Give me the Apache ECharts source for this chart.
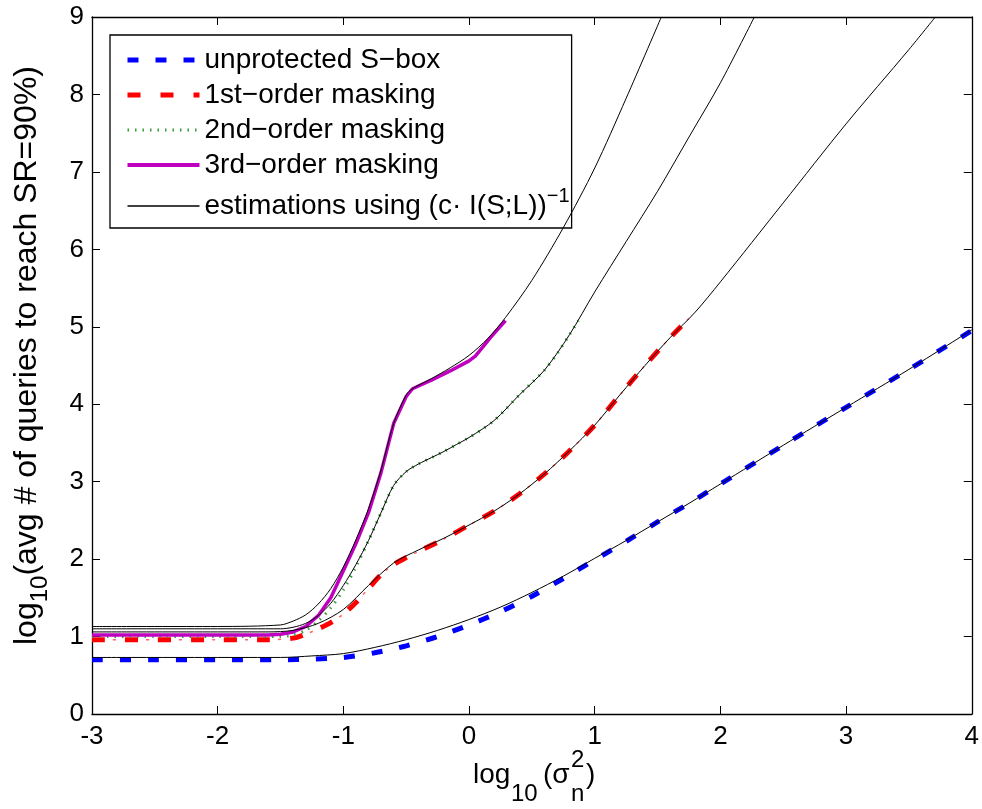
<!DOCTYPE html>
<html>
<head>
<meta charset="utf-8">
<script src="https://cdn.jsdelivr.net/npm/echarts@6/dist/echarts.min.js"></script>
<style>
  html, body { margin: 0; padding: 0; background: #fff; }
  #chart { width: 982px; height: 809px; }
</style>
</head>
<body>
<div id="chart"></div>
<script>
// 坐标轴刻度
const xTicks = [-3, -2, -1, 0, 1, 2, 3, 4];
const yTicks = [0, 1, 2, 3, 4, 5, 6, 7, 8, 9];

// unprotected S-box
const blueX = [-3, -2.5, -2, -1.5, -1.25, -1, -0.75, -0.5, -0.25, 0, 0.25, 0.5, 0.75, 1, 1.25, 1.5, 1.75, 2, 2.5, 3, 3.5, 4];
const blueY = [0.70, 0.70, 0.70, 0.70, 0.71, 0.73, 0.79, 0.88, 1.00, 1.15, 1.32, 1.52, 1.75, 1.99, 2.23, 2.48, 2.72, 2.97, 3.47, 3.96, 4.45, 4.95];
const blueEstX = [-3, -2.5, -2, -1.5, -1.25, -1, -0.75, -0.5, -0.25, 0, 0.25, 0.5, 0.75, 1, 1.25, 1.5, 1.75, 2, 2.5, 3, 3.5, 4];
const blueEstY = [0.73, 0.73, 0.73, 0.73, 0.75, 0.78, 0.86, 0.96, 1.08, 1.22, 1.38, 1.57, 1.78, 2.01, 2.24, 2.48, 2.72, 2.97, 3.47, 3.96, 4.45, 4.96];

// 1st-order masking
const redX = [-3, -2.5, -2, -1.6, -1.4, -1.3, -1.2, -1.1, -1.0, -0.9, -0.8, -0.7, -0.6, -0.5, -0.4, -0.2, 0, 0.2, 0.4, 0.6, 0.8, 1.0, 1.2, 1.4, 1.6, 1.8];
const redY = [0.96, 0.96, 0.96, 0.96, 0.98, 1.03, 1.10, 1.18, 1.29, 1.44, 1.62, 1.80, 1.93, 2.02, 2.10, 2.26, 2.44, 2.62, 2.84, 3.10, 3.40, 3.73, 4.12, 4.50, 4.86, 5.19];
const redEstX = [-3, -2.5, -2, -1.6, -1.4, -1.2, -1.0, -0.8, -0.6, -0.4, -0.2, 0, 0.2, 0.4, 0.6, 0.8, 1.0, 1.2, 1.4, 1.6, 1.8, 2.0, 2.5, 3.0, 3.5, 3.71];
const redEstY = [1.06, 1.06, 1.06, 1.06, 1.08, 1.17, 1.35, 1.66, 1.95, 2.12, 2.27, 2.44, 2.62, 2.84, 3.10, 3.40, 3.73, 4.12, 4.50, 4.86, 5.19, 5.58, 6.60, 7.62, 8.58, 9.0];

// 2nd-order masking
const greenX = [-3, -2.5, -2, -1.6, -1.5, -1.4, -1.3, -1.2, -1.1, -1.0, -0.9, -0.8, -0.7, -0.6, -0.5, -0.4, -0.3, -0.2, -0.1, 0, 0.1, 0.2, 0.3, 0.4, 0.5, 0.6, 0.7, 0.8, 0.87];
const greenY = [1.00, 1.00, 1.00, 1.00, 1.00, 1.02, 1.08, 1.20, 1.37, 1.60, 1.90, 2.24, 2.60, 2.95, 3.13, 3.23, 3.31, 3.39, 3.48, 3.57, 3.67, 3.79, 3.95, 4.12, 4.28, 4.44, 4.65, 4.90, 5.08];
const greenEstX = [-3, -2.5, -2, -1.5, -1.4, -1.3, -1.2, -1.1, -1.0, -0.9, -0.8, -0.7, -0.6, -0.5, -0.4, -0.3, -0.2, -0.1, 0, 0.2, 0.4, 0.6, 0.8, 1.0, 1.25, 1.5, 1.75, 2.0, 2.27];
const greenEstY = [1.10, 1.10, 1.10, 1.10, 1.12, 1.17, 1.27, 1.43, 1.66, 1.93, 2.24, 2.60, 2.95, 3.13, 3.23, 3.31, 3.39, 3.48, 3.57, 3.79, 4.12, 4.44, 4.90, 5.45, 6.10, 6.75, 7.45, 8.15, 9.0];

// 3rd-order masking
const purpleX = [-3, -2.5, -2, -1.6, -1.5, -1.4, -1.3, -1.2, -1.1, -1.0, -0.9, -0.8, -0.7, -0.6, -0.5, -0.45, -0.3, -0.15, 0, 0.05, 0.17, 0.29];
const purpleY = [1.02, 1.02, 1.02, 1.02, 1.03, 1.06, 1.13, 1.27, 1.50, 1.85, 2.20, 2.60, 3.12, 3.75, 4.10, 4.20, 4.31, 4.43, 4.56, 4.62, 4.86, 5.08];
const purpleEstX = [-3, -2.5, -2, -1.5, -1.4, -1.3, -1.2, -1.1, -1.0, -0.9, -0.8, -0.7, -0.6, -0.5, -0.45, -0.3, -0.15, 0, 0.15, 0.29, 0.5, 0.75, 1.0, 1.25, 1.53];
const purpleEstY = [1.13, 1.13, 1.13, 1.15, 1.20, 1.28, 1.42, 1.62, 1.90, 2.25, 2.65, 3.15, 3.75, 4.12, 4.20, 4.33, 4.47, 4.63, 4.85, 5.12, 5.60, 6.28, 7.05, 7.95, 9.0];

const EST = 'estimations using (c· I(S;L))';
const FONT = 'Liberation Sans, Arial, sans-serif';

function pairs(xs, ys) {
  return xs.map((x, i) => [x, ys[i]]);
}

const chart = echarts.init(document.getElementById('chart'));

function estSeries(xs, ys) {
  return {
    name: EST,
    type: 'line',
    data: pairs(xs, ys),
    symbol: 'none',
    smooth: 0.3,
    z: 5,
    lineStyle: { color: '#000', width: 1 }
  };
}

// 坐标轴通用样式
function axisCommon(showLabel) {
  return {
    type: 'value',
    axisLine: { onZero: false, lineStyle: { color: '#000', width: 1.3 } },
    axisTick: { inside: true, length: 8, lineStyle: { color: '#000', width: 1 } },
    axisLabel: showLabel
      ? { fontFamily: FONT, fontSize: 26, color: '#000' }
      : { show: false },
    splitLine: { show: false }
  };
}

const xBottom = axisCommon(true);
Object.assign(xBottom, { min: -3, max: 4, interval: 1, position: 'bottom' });
xBottom.axisLabel.margin = 10;
const xTop = axisCommon(false);
Object.assign(xTop, { min: -3, max: 4, interval: 1, position: 'top' });

const yLeft = axisCommon(true);
Object.assign(yLeft, {
  min: 0, max: 9, interval: 1, position: 'left',
  name: 'log{sub|10}(avg # of queries to reach SR=90%)',
  nameLocation: 'middle',
  nameRotate: 90,
  nameGap: 40,
  nameTextStyle: {
    fontFamily: FONT, fontSize: 32, color: '#000', padding: [0, 0, 0, 20],
    rich: { sub: { fontFamily: FONT, fontSize: 24, color: '#000', padding: [26, 0, 0, 0] } }
  }
});
yLeft.axisLabel.margin = 8;
const yRight = axisCommon(false);
Object.assign(yRight, { min: 0, max: 9, interval: 1, position: 'right' });

const option = {
  animation: false,
  backgroundColor: '#fff',
  grid: { left: 92, right: 4, top: 17, bottom: 95, show: false },
  legend: {
    orient: 'vertical',
    left: 110,
    top: 35,
    padding: [11, 2, 8, 15],
    itemGap: 7,
    itemWidth: 72,
    itemHeight: 14,
    backgroundColor: '#fff',
    borderColor: '#000',
    borderWidth: 1.3,
    itemStyle: { opacity: 0 },
    data: [
      { name: 'unprotected S−box', lineStyle: { width: 5 } },
      { name: '1st−order masking', lineStyle: { width: 5 } },
      { name: '2nd−order masking', lineStyle: { width: 3 } },
      { name: '3rd−order masking', lineStyle: { width: 4 } },
      { name: EST, lineStyle: { width: 1.3 } }
    ],
    formatter: function (name) {
      return name === EST ? EST + '{sup|−1}' : name;
    },
    textStyle: {
      fontFamily: FONT,
      fontSize: 28,
      color: '#000',
      rich: {
        sup: { fontFamily: FONT, fontSize: 20, color: '#000', padding: [0, 0, 20, 0] }
      }
    }
  },
  xAxis: [xBottom, xTop],
  yAxis: [yLeft, yRight],
  graphic: [
    // x 轴标题 log10(σn^2)
    { type: 'text', left: 473, top: 761, style: { text: 'log', font: '28px ' + FONT, fill: '#000' } },
    { type: 'text', left: 511, top: 782, style: { text: '10', font: '24px ' + FONT, fill: '#000' } },
    { type: 'text', left: 543, top: 761, style: { text: '(σ', font: '28px ' + FONT, fill: '#000' } },
    { type: 'text', left: 571, top: 748, style: { text: '2', font: '24px ' + FONT, fill: '#000' } },
    { type: 'text', left: 571, top: 782, style: { text: 'n', font: '24px ' + FONT, fill: '#000' } },
    { type: 'text', left: 586, top: 761, style: { text: ')', font: '28px ' + FONT, fill: '#000' } }
  ],
  series: [
    {
      name: 'unprotected S−box', type: 'line', data: pairs(blueX, blueY), symbol: 'none',
      smooth: 0.3,
      lineStyle: { color: '#0000ff', width: 5, type: [11, 17], cap: 'butt' }
    },
    {
      name: '1st−order masking', type: 'line', data: pairs(redX, redY), symbol: 'none',
      smooth: 0.3,
      lineStyle: { color: '#ff0000', width: 5, type: [13, 20], cap: 'butt' }
    },
    {
      name: '1st−order masking', type: 'line', data: pairs(redX, redY), symbol: 'none',
      smooth: 0.3,
      lineStyle: { color: '#ff6666', width: 1.5, type: [3, 30], dashOffset: 12, cap: 'butt' }
    },
    {
      name: '2nd−order masking', type: 'line', data: pairs(greenX, greenY), symbol: 'none',
      smooth: 0.3,
      lineStyle: { color: '#3a9e3a', width: 3, type: [1.5, 6], cap: 'butt' }
    },
    {
      name: '3rd−order masking', type: 'line', data: pairs(purpleX, purpleY), symbol: 'none',
      lineStyle: { color: '#bf00bf', width: 3.5 }
    },
    estSeries(blueEstX, blueEstY),
    estSeries(redEstX, redEstY),
    estSeries(greenEstX, greenEstY),
    estSeries(purpleEstX, purpleEstY)
  ]
};

chart.setOption(option);
</script>
</body>
</html>
